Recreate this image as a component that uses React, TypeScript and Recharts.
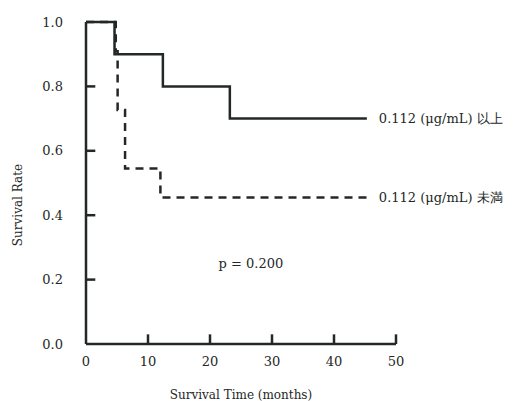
import { LineChart, Line, XAxis, YAxis, ReferenceDot, ReferenceLine, Label } from 'recharts';

// Kaplan-Meier steps (months, survival rate)
const highTimes = [0, 4.6, 12.4, 23.2, 45.3];
const highRates = [1.0, 0.9, 0.8, 0.7, 0.7];
const lowTimes = [0, 4.8, 5.1, 6.3, 12.0, 45.3];
const lowRates = [1.0, 0.909, 0.727, 0.545, 0.455, 0.455];

const xTicks = [0, 10, 20, 30, 40, 50];
const yTicks = [0, 0.2, 0.4, 0.6, 0.8, 1.0];

const highLabel = '0.112 (μg/mL) 以上';
const lowLabel = '0.112 (μg/mL) 未満';
const pText = 'p = 0.200';
const pPos = { t: 26.6, s: 0.25 };

const highData = highTimes.map((t, i) => ({ t, s: highRates[i] }));
const lowData = lowTimes.map((t, i) => ({ t, s: lowRates[i] }));

const ink = '#232826';
const font = '"DejaVu Serif", "Liberation Serif", serif';
// inward tick length in data units (~9px each way)
const X_TICK_LEN = 0.03;
const Y_TICK_LEN = 1.5;

export default function App() {
  const lastHigh = highData[highData.length - 1];
  const lastLow = lowData[lowData.length - 1];

  return (
    <div style={{ position: 'absolute', left: 0, top: 0, width: 515, height: 401, background: '#fff' }}>
      <LineChart
        width={515}
        height={401}
        margin={{ top: 22, right: 119, bottom: 0, left: 14 }}
        style={{ fontFamily: font }}
      >
        <XAxis
          type="number"
          dataKey="t"
          domain={[0, 50]}
          ticks={xTicks}
          allowDataOverflow
          height={57}
          stroke={ink}
          strokeWidth={2.5}
          tickLine={false}
          tickSize={0}
          tickMargin={13}
          tick={{ fill: ink, fontSize: 13, fontFamily: font }}
        >
          <Label
            value="Survival Time (months)"
            position="insideBottom"
            offset={2}
            style={{ fill: ink, fontSize: 12, fontFamily: font }}
          />
        </XAxis>
        <YAxis
          type="number"
          domain={[0, 1]}
          ticks={yTicks}
          width={72}
          stroke={ink}
          strokeWidth={2.5}
          tickLine={false}
          tickSize={0}
          tickMargin={23}
          tickFormatter={(v) => Number(v).toFixed(1)}
          tick={{ fill: ink, fontSize: 13, fontFamily: font }}
        >
          <Label
            value="Survival Rate"
            angle={-90}
            position="insideLeft"
            offset={4}
            dy={22}
            style={{ fill: ink, fontSize: 12, fontFamily: font, textAnchor: 'middle' }}
          />
        </YAxis>

        {/* inward tick marks */}
        {xTicks.slice(1).map((v) => (
          <ReferenceLine
            key={`xt-${v}`}
            segment={[{ x: v, y: 0 }, { x: v, y: X_TICK_LEN }]}
            ifOverflow="visible"
            stroke={ink}
            strokeWidth={2.5}
          />
        ))}
        {yTicks.slice(1, -1).map((v) => (
          <ReferenceLine
            key={`yt-${v}`}
            segment={[{ x: 0, y: v }, { x: Y_TICK_LEN, y: v }]}
            ifOverflow="visible"
            stroke={ink}
            strokeWidth={2.5}
          />
        ))}

        <Line
          data={lowData}
          dataKey="s"
          type="stepAfter"
          stroke={ink}
          strokeWidth={2.5}
          strokeDasharray="8 6"
          dot={false}
          isAnimationActive={false}
        />
        <Line
          data={highData}
          dataKey="s"
          type="stepAfter"
          stroke={ink}
          strokeWidth={2.5}
          dot={false}
          isAnimationActive={false}
        />

        <ReferenceDot
          x={lastHigh.t}
          y={lastHigh.s}
          r={0}
          stroke="none"
          label={{ value: highLabel, position: 'right', offset: 12, style: { fill: ink, fontSize: 13, fontFamily: font } }}
        />
        <ReferenceDot
          x={lastLow.t}
          y={lastLow.s}
          r={0}
          stroke="none"
          label={{ value: lowLabel, position: 'right', offset: 12, style: { fill: ink, fontSize: 13, fontFamily: font } }}
        />
        <ReferenceDot
          x={pPos.t}
          y={pPos.s}
          r={0}
          stroke="none"
          label={{ value: pText, position: 'center', style: { fill: ink, fontSize: 13, fontFamily: font } }}
        />
      </LineChart>
    </div>
  );
}
